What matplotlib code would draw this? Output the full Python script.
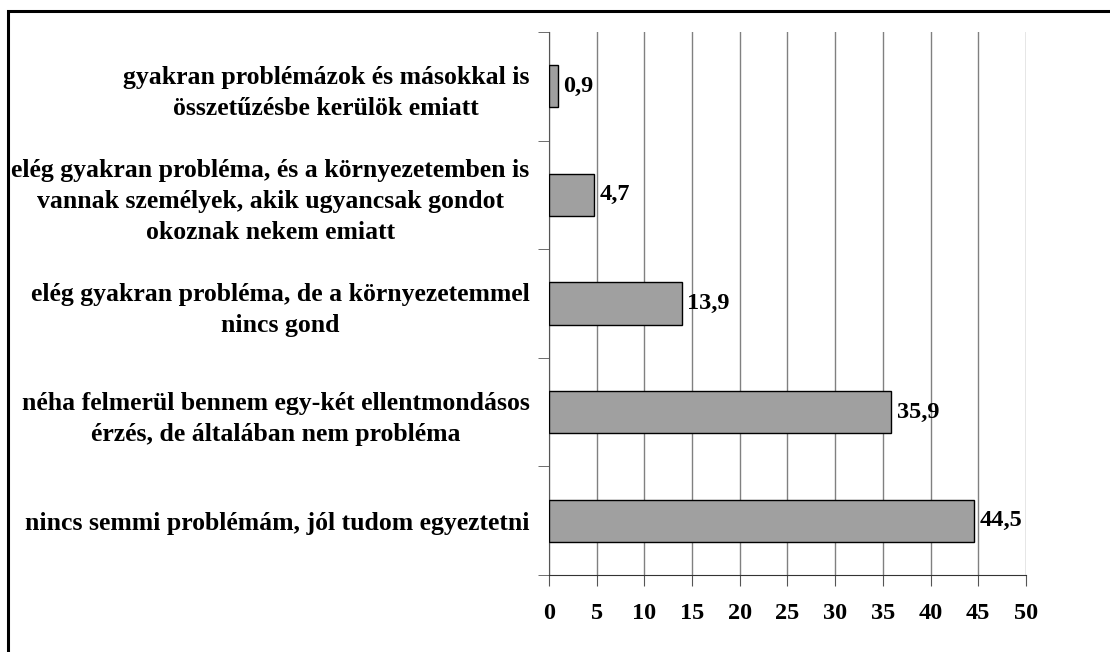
import matplotlib.pyplot as plt
from matplotlib.patches import Rectangle

# válaszkategóriák (alulról felfelé)
kategoriak = [
    'nincs semmi problémám, jól tudom egyeztetni',
    'néha felmerül bennem egy-két ellentmondásos\nérzés, de általában nem probléma',
    'elég gyakran probléma, de a környezetemmel\nnincs gond',
    'elég gyakran probléma, és a környezetemben is\nvannak személyek, akik ugyancsak gondot\nokoznak nekem emiatt',
    'gyakran problémázok és másokkal is\nösszetűzésbe kerülök emiatt',
]
ertekek = [44.5, 35.9, 13.9, 4.7, 0.9]
xtick_vals = [0, 5, 10, 15, 20, 25, 30, 35, 40, 45, 50]

plt.rcParams['font.family'] = 'Liberation Serif'
plt.rcParams['font.weight'] = 'bold'

fig = plt.figure(figsize=(11.1, 6.52), dpi=100)
ax = fig.add_axes([0.4946, 0.1181, 0.4297, 0.8329])

y = list(range(len(kategoriak)))
ax.barh(y, ertekek, height=0.39, color='#A0A0A0', edgecolor='black', linewidth=1, zorder=3)

for yi, v in zip(y, ertekek):
    ax.text(v + 0.6, yi, f'{v:.1f}'.replace('.', ','), va='center', ha='left',
            fontsize=17.5, fontweight='bold', zorder=4)

ax.set_xlim(0, 50)
ax.set_ylim(-0.5, len(kategoriak) - 0.5)
ax.set_xticks(xtick_vals)
ax.set_xticklabels([str(t) for t in xtick_vals], fontsize=17.5, fontweight='bold')
ax.tick_params(axis='x', direction='out', length=8, pad=12, color='#555555')

ax.set_yticks(y)
ax.set_yticklabels(kategoriak, fontsize=18.5, fontweight='bold', multialignment='center',
                   linespacing=1.45)
ax.set_yticks([i - 0.5 for i in range(len(kategoriak) + 1)], minor=True)
ax.tick_params(axis='y', which='major', length=0, pad=14)
ax.tick_params(axis='y', which='minor', length=8, color='#555555')

ax.grid(axis='x', color='#808080', linewidth=1, zorder=0)
ax.spines['top'].set_visible(False)
ax.spines['right'].set_visible(False)
ax.spines['left'].set_color('#555555')
ax.spines['bottom'].set_color('#333333')

# külső keret
fig.patches.append(Rectangle((8 / 1110, -0.05), 1.2, 1.05 - 11 / 652,
                             transform=fig.transFigure, fill=False,
                             edgecolor='black', linewidth=2.2))

fig.savefig('out.png', dpi=100)
